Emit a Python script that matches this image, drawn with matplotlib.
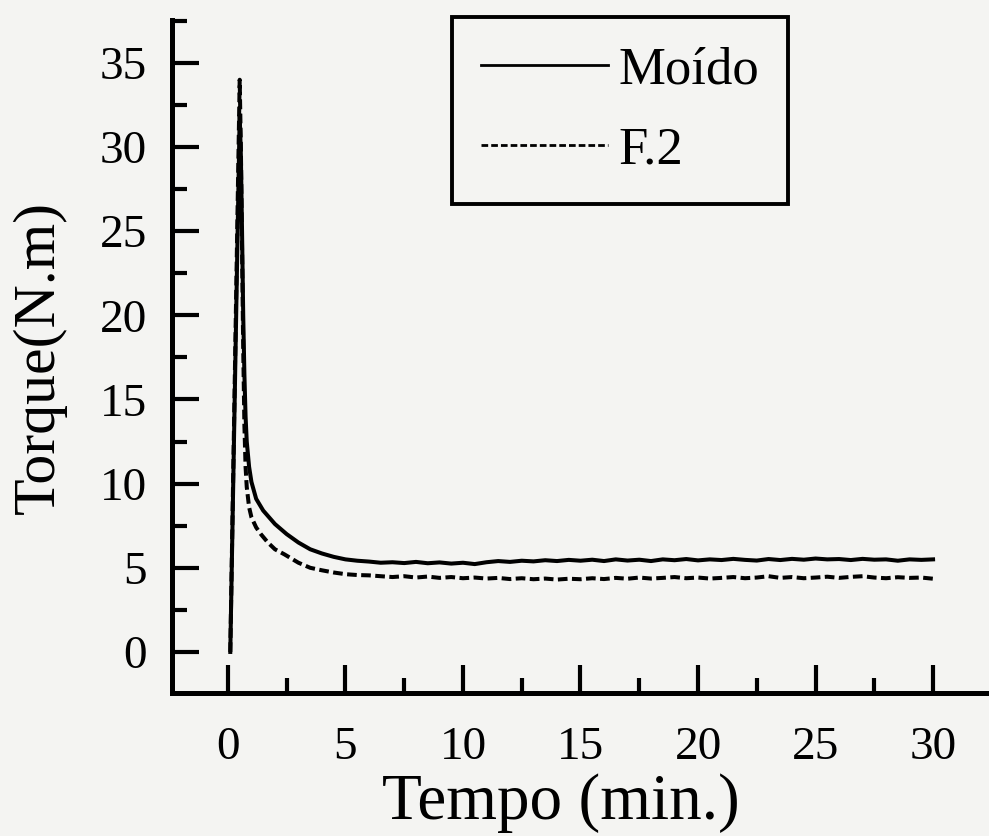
import matplotlib
matplotlib.use("Agg")
import matplotlib.pyplot as plt
from matplotlib.ticker import MultipleLocator

plt.rcParams['font.family'] = ['Liberation Serif', 'DejaVu Serif']

# ---- data ----
# initial rise / peak / decay region
moido_x_start = [0.10, 0.20, 0.30, 0.40, 0.50, 0.55, 0.60, 0.65, 0.70, 0.75, 0.80,
                 0.90, 1.00, 1.20, 1.50, 2.00, 2.50, 3.00, 3.50, 4.00, 4.50, 5.00, 5.50]
moido_y_start = [0.0, 8.0, 16.0, 24.0, 31.9, 29.5, 25.0, 20.0, 16.5, 14.0, 12.5,
                 11.0, 10.1, 9.1, 8.4, 7.6, 7.0, 6.5, 6.1, 5.85, 5.65, 5.5, 5.42]
f2_x_start = [0.10, 0.20, 0.30, 0.40, 0.50, 0.55, 0.60, 0.65, 0.70, 0.75, 0.80,
              0.90, 1.00, 1.20, 1.40, 1.70, 2.00, 2.40, 3.00, 3.50, 4.00, 4.50, 5.00, 5.50]
f2_y_start = [0.0, 8.5, 17.0, 25.5, 34.0, 30.0, 24.0, 18.0, 13.5, 11.0, 9.8,
              8.6, 8.0, 7.4, 7.0, 6.5, 6.1, 5.8, 5.3, 5.0, 4.85, 4.72, 4.62, 4.57]

# plateau, every 0.5 min from 6 to 30
plateau_x = [6.0 + 0.5 * i for i in range(49)]
moido_plateau = [5.37, 5.30, 5.33, 5.28, 5.35, 5.27, 5.32, 5.25, 5.30, 5.22,
                 5.33, 5.40, 5.35, 5.42, 5.38, 5.45, 5.40, 5.47, 5.42, 5.48,
                 5.40, 5.50, 5.43, 5.48, 5.40, 5.50, 5.45, 5.52, 5.44, 5.50,
                 5.46, 5.53, 5.47, 5.43, 5.52, 5.46, 5.53, 5.48, 5.55, 5.50,
                 5.52, 5.46, 5.53, 5.48, 5.50, 5.42, 5.50, 5.47, 5.50]
f2_plateau = [4.55, 4.50, 4.45, 4.50, 4.42, 4.48, 4.40, 4.45, 4.38, 4.42,
              4.36, 4.40, 4.33, 4.38, 4.32, 4.36, 4.30, 4.35, 4.32, 4.38,
              4.33, 4.40, 4.35, 4.42, 4.36, 4.40, 4.45, 4.38, 4.42, 4.36,
              4.40, 4.45, 4.38, 4.42, 4.50, 4.40, 4.45, 4.38, 4.42, 4.47,
              4.40, 4.46, 4.50, 4.42, 4.38, 4.44, 4.40, 4.42, 4.35]

series_labels = ["Moído", "F.2"]
x_ticks = [0, 5, 10, 15, 20, 25, 30]
y_ticks = [0, 5, 10, 15, 20, 25, 30, 35]
x_label = "Tempo (min.)"
y_label = "Torque(N.m)"

moido_x = moido_x_start + plateau_x
moido_y = moido_y_start + moido_plateau
f2_x = f2_x_start + plateau_x
f2_y = f2_y_start + f2_plateau

# ---- figure ----
bg = '#f4f4f2'
fig = plt.figure(figsize=(9.89, 8.36), dpi=100, facecolor=bg)
ax = fig.add_axes([172/989, 1 - 693/836, 1 - 172/989, (693 - 20)/836])
ax.set_facecolor(bg)

ax.plot(moido_x, moido_y, color='black', lw=2.9, solid_joinstyle='round',
        label=series_labels[0])
ax.plot(f2_x, f2_y, color='black', lw=2.9, dashes=(2.4, 1.1),
        label=series_labels[1])

ax.set_xlim(-2.38, 32.38)
ax.set_ylim(-2.44, 37.55)

for s in ['top', 'right']:
    ax.spines[s].set_visible(False)
for s in ['left', 'bottom']:
    ax.spines[s].set_linewidth(3.6)

ax.set_xticks(x_ticks)
ax.set_yticks(y_ticks)
ax.xaxis.set_minor_locator(MultipleLocator(2.5))
ax.yaxis.set_minor_locator(MultipleLocator(2.5))
ax.tick_params(axis='x', which='major', direction='in', length=20, width=3,
               pad=24, labelsize=34)
ax.tick_params(axis='x', which='minor', direction='in', length=11, width=3)
ax.tick_params(axis='y', which='major', direction='in', length=19.5, width=3,
               pad=18, labelsize=34)
ax.tick_params(axis='y', which='minor', direction='in', length=11, width=3)

ax.set_xlabel(x_label, fontsize=47)
ax.xaxis.label.set_va('baseline')
ax.xaxis.set_label_coords((561 - 172) / 817, (693 - 819) / 673)
ax.set_ylabel(y_label, fontsize=43)
ax.yaxis.label.set_va('center')
ax.yaxis.set_label_coords((40 - 172) / 817, (693 - 357) / 673)

leg = ax.legend(loc='upper left', bbox_to_anchor=(452/989, 1 - 17/836),
                bbox_transform=fig.transFigure, fontsize=38, frameon=True,
                fancybox=False, edgecolor='black', facecolor=bg, framealpha=1,
                handlelength=2.4, handletextpad=0.2, borderpad=0.55,
                labelspacing=0.62, borderaxespad=0)
leg.get_frame().set_linewidth(2.8)
for line in leg.get_lines():
    line.set_linewidth(2.0)

fig.savefig('out.png', dpi=100, facecolor=bg)
